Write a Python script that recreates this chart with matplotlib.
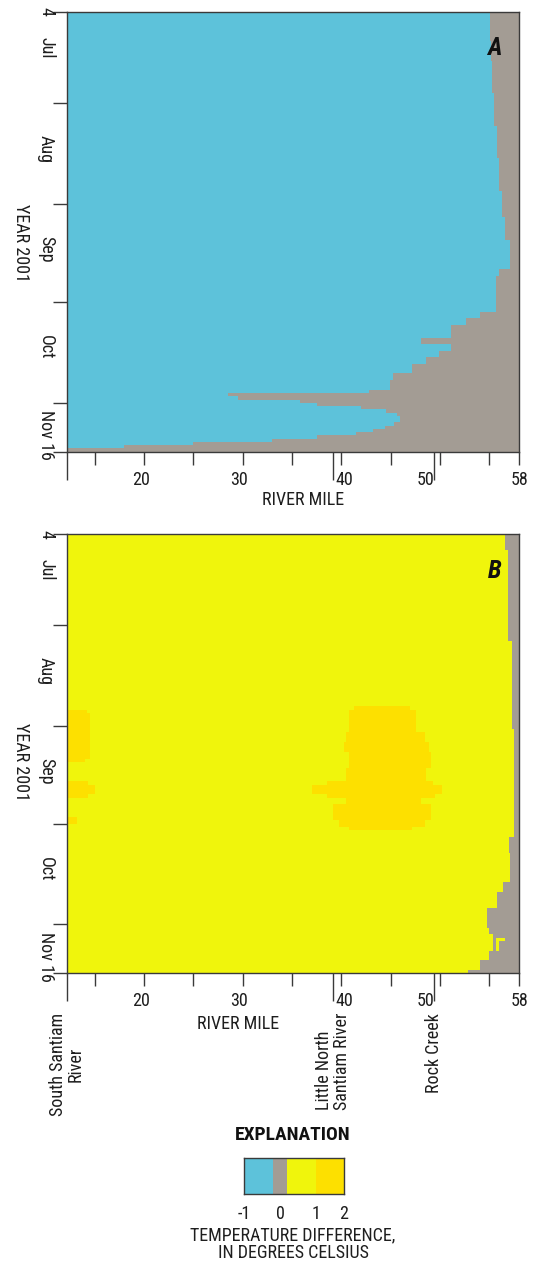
import numpy as np
import matplotlib
matplotlib.use("Agg")
import matplotlib.pyplot as plt
from matplotlib import font_manager
from matplotlib.colors import ListedColormap, BoundaryNorm
from matplotlib.ticker import NullLocator
from matplotlib.transforms import blended_transform_factory, offset_copy

# ---------------------------------------------------------------- classes
# temperature-difference classes (deg C) and their colours
class_bounds = [-1.0, -0.2, 0.2, 1.0, 2.0]
class_colors = ["#5DC2DA", "#A39C94", "#F0F50C", "#FDE000"]
class_values = [-0.6, 0.0, 0.6, 1.5]          # one value inside each class
legend_ticks = [-1, 0, 1, 2]
legend_tick_labels = ["-1", "0", "1", "2"]

# ---------------------------------------------------------------- axes
mile_min, mile_max = 12.15, 58.0
mile_ticks = [15, 20, 25, 30, 35, 40, 45, 50, 55, 58]
mile_labels = ["20", "30", "40", "50", "58"]
mile_label_at = [19.7, 29.6, 40.25, 48.5, 58.1]
tributary_names = ["South Santiam\nRiver", "Little North\nSantiam River", "Rock Creek"]
tributary_miles = [12.15, 39.15, 49.35]
tributary_align = ["center", "left", "left"]

n_days = 135                                   # 4 July .. 16 November 2001
month_bounds = [0, 28, 59, 89, 120, 135]
month_names = ["Jul", "Aug", "Sep", "Oct"]
month_mid = [11, 42, 73, 103]

# ---------------------------------------------------------------- panel A
# river mile where the cooler (< -0.2) reach gives way to near-zero change,
# from the listed day until the next listed day
a_edge_days = [0, 5, 9, 15, 25, 35, 45, 55, 63, 70,
               79, 81, 92, 94, 96, 100, 102, 104, 106, 108,
               111, 113, 116, 117, 118, 119, 120, 121, 122, 123,
               124, 126, 127, 128, 129, 130, 131, 132, 133, 134]
a_edge_miles = [55.05, 55.1, 55.2, 55.3, 55.5, 55.8, 56.0, 56.3, 56.6, 57.1,
                56.0, 55.7, 54.0, 52.6, 51.1, 48.1, 51.1, 49.9, 48.6, 47.2,
                45.2, 44.9, 42.8, 28.5, 29.5, 35.8, 37.5, 42.0, 44.5, 45.6,
                45.9, 45.3, 44.4, 43.2, 41.5, 37.5, 33.0, 25.0, 18.0, 12.15]

# ---------------------------------------------------------------- panel B
# river mile where the warmer (0.2-1) reach gives way to near-zero change
b_edge_days = [0, 5, 33, 60, 93, 98, 107, 110, 115, 121, 123, 128, 131, 134]
b_edge_miles = [56.6, 56.9, 57.3, 57.5, 57.0, 57.1, 56.4, 55.8, 54.8, 55.0,
                55.4, 55.0, 54.0, 52.8]
# warmest class (1-2 deg C): day range [start, end) and river-mile range
b_gold_day0 = [53, 54, 61, 64, 67, 72, 76, 77, 80, 81, 83, 88, 90,
               54, 55, 69, 76, 77, 80, 87]
b_gold_day1 = [54, 61, 64, 67, 72, 76, 77, 80, 81, 83, 88, 90, 91,
               55, 69, 70, 77, 80, 81, 89]
b_gold_mile0 = [41.3, 40.8, 40.5, 40.3, 40.8, 40.5, 38.5, 37.0, 38.5, 40.5, 39.1, 39.8, 40.8,
                12.15, 12.15, 12.15, 12.15, 12.15, 12.15, 12.15]
b_gold_mile1 = [47.0, 47.6, 48.5, 48.9, 49.1, 48.6, 49.3, 50.2, 49.5, 48.1, 49.1, 48.5, 47.2,
                14.2, 14.5, 14.0, 14.3, 15.0, 14.3, 13.2]
# small warm notch inside the near-zero reach
b_notch_day0 = [124, 124]
b_notch_day1 = [128, 125]
b_notch_mile0 = [55.7, 55.7]
b_notch_mile1 = [56.0, 56.6]


# ---------------------------------------------------------------- fonts
def condensed_family():
    entries = font_manager.fontManager.ttflist
    names = {f.name for f in entries}
    for name in ("Liberation Sans Narrow", "Arial Narrow", "Roboto Condensed",
                 "Open Sans Condensed", "Noto Sans Condensed"):
        if name in names:
            return name, "normal"
    for name in ("Roboto", "Noto Sans", "Open Sans", "DejaVu Sans"):
        if any(f.name == name and str(f.stretch) in ("condensed", "semi-condensed")
               for f in entries):
            return name, "condensed"
    return "Liberation Sans", "normal"


FAMILY, STRETCH = condensed_family()
plt.rcParams["font.family"] = [FAMILY, "DejaVu Sans"]
plt.rcParams["font.stretch"] = STRETCH
plt.rcParams["font.size"] = 13

INK = "#3a3a3a"
TXT = "#1e1e1e"
cmap = ListedColormap(class_colors)
norm = BoundaryNorm(class_bounds, cmap.N)

# ---------------------------------------------------------------- grid
mile_edges = np.linspace(mile_min, mile_max, 918)
mile_mid = 0.5 * (mile_edges[:-1] + mile_edges[1:])
day_edges = np.arange(n_days + 1)
days = np.arange(n_days)


def step_lookup(start_days, values, d):
    idx = np.searchsorted(start_days, d, side="right") - 1
    return np.asarray(values, dtype=float)[idx]


def fill_runs(grid, d0, d1, m0, m1, value):
    for s, e, lo, hi in zip(d0, d1, m0, m1):
        cols = (mile_mid >= lo) & (mile_mid < hi)
        grid[s:e, cols] = value


a_edge = step_lookup(a_edge_days, a_edge_miles, days)
grid_a = np.where(mile_mid[None, :] < a_edge[:, None], class_values[0], class_values[1])

b_edge = step_lookup(b_edge_days, b_edge_miles, days)
grid_b = np.where(mile_mid[None, :] < b_edge[:, None], class_values[2], class_values[1])
fill_runs(grid_b, b_gold_day0, b_gold_day1, b_gold_mile0, b_gold_mile1, class_values[3])
fill_runs(grid_b, b_notch_day0, b_notch_day1, b_notch_mile0, b_notch_mile1, class_values[2])

# ---------------------------------------------------------------- figure
W, H, DPI = 537, 1262, 100
fig = plt.figure(figsize=(W / DPI, H / DPI), dpi=DPI)
fig.patch.set_facecolor("white")


def fx(px):
    return px / W


def fy(py):
    return 1.0 - py / H


AX_L, AX_R = 66.7, 519.0
panels = [
    dict(grid=grid_a, top=11.7, bot=451.7, letter="A", tick_y=480.0,
         title_xy=(303.5, 500.0), ylab_y=243.0, names=False),
    dict(grid=grid_b, top=534.0, bot=973.3, letter="B", tick_y=1000.5,
         title_xy=(237.7, 1024.0), ylab_y=762.0, names=True),
]

for p in panels:
    ax = fig.add_axes([fx(AX_L), fy(p["bot"]), (AX_R - AX_L) / W, (p["bot"] - p["top"]) / H])
    ax.pcolormesh(mile_edges, day_edges, p["grid"], cmap=cmap, norm=norm,
                  shading="flat", antialiased=False, rasterized=True)
    ax.set_xlim(mile_min, mile_max)
    ax.set_ylim(n_days, 0)
    for s in ax.spines.values():
        s.set_color(INK)
        s.set_linewidth(1.0)

    ax.set_xticks(mile_ticks)
    ax.set_xticks(tributary_miles, minor=True)
    ax.tick_params(axis="x", which="major", length=9.5, width=1.0, color=INK,
                   labelbottom=False)
    ax.tick_params(axis="x", which="minor", length=20.5, width=1.0, color=INK,
                   labelbottom=False)
    ax.set_yticks(month_bounds)
    ax.yaxis.set_minor_locator(NullLocator())
    ax.tick_params(axis="y", length=10, width=1.0, color=INK, labelleft=False)

    # river-mile labels
    tx = blended_transform_factory(ax.transData, fig.transFigure)
    for lab, m in zip(mile_labels, mile_label_at):
        ax.text(m, fy(p["tick_y"]), lab, transform=tx, ha="center", va="center",
                color=TXT)
    fig.text(fx(p["title_xy"][0]), fy(p["title_xy"][1]), "RIVER MILE",
             ha="center", va="center", color=TXT)

    # date labels
    ty = blended_transform_factory(fig.transFigure, ax.transData)
    for name, d in zip(month_names, month_mid):
        ax.text(fx(46), d, name, transform=ty, rotation=-90, ha="center",
                va="center", color=TXT)
    ax.text(fx(46), 0, "4", transform=ty, rotation=-90, ha="center",
            va="center", color=TXT)
    ax.text(fx(46), n_days, "Nov 16",
            transform=offset_copy(ty, fig=fig, x=0, y=-8.3, units="dots"),
            rotation=-90, ha="center", va="bottom", color=TXT)
    fig.text(fx(20.5), fy(p["ylab_y"]), "YEAR 2001", rotation=-90,
             ha="center", va="center", color=TXT)

    # panel letter
    fig.text(fx(502), fy(p["top"] + 36.5), p["letter"], ha="right", va="center",
             fontsize=18, fontweight="bold", fontstyle="italic", color="#111111")

    if p["names"]:
        for name, m, al in zip(tributary_names, tributary_miles, tributary_align):
            ax.text(m, fy(1013), name, transform=tx, rotation=90, ha="center",
                    va="top", multialignment=al, color=TXT, linespacing=1.0)

# ---------------------------------------------------------------- explanation
fig.text(fx(293), fy(1135), "EXPLANATION", ha="center", va="center",
         fontweight="bold", fontsize=14, color="#111111")

pos_vals = [-1.0, 1.0, 2.0]
pos_frac = [0.0, 0.725, 1.0]


def to_frac(v):
    return np.interp(v, pos_vals, pos_frac)


def from_frac(f):
    return np.interp(f, pos_frac, pos_vals)


lax = fig.add_axes([fx(243.8), fy(1194.3), (343.7 - 243.8) / W, (1194.3 - 1157.7) / H])
lax.set_xscale("function", functions=(to_frac, from_frac))
lax.pcolormesh(class_bounds, [0, 1], [class_values], cmap=cmap, norm=norm,
               shading="flat", antialiased=False)
lax.set_xlim(class_bounds[0], class_bounds[-1])
lax.set_ylim(0, 1)
lax.set_yticks([])
lax.set_xticks(legend_ticks)
lax.set_xticklabels(legend_tick_labels)
lax.xaxis.set_minor_locator(NullLocator())
lax.tick_params(axis="x", length=0, pad=8, labelsize=13, labelcolor=TXT)
for s in lax.spines.values():
    s.set_color(INK)
    s.set_linewidth(1.0)

fig.text(fx(293), fy(1235), "TEMPERATURE DIFFERENCE,", ha="center", va="center",
         color=TXT)
fig.text(fx(293), fy(1252.5), "IN DEGREES CELSIUS", ha="center", va="center",
         color=TXT)

fig.savefig("out.png", dpi=DPI, facecolor="white")
